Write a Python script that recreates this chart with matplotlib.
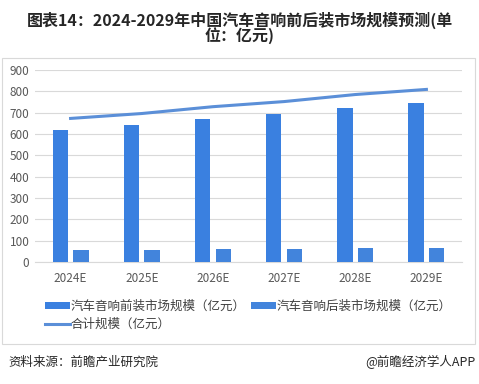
import matplotlib

matplotlib.use("Agg")
import matplotlib.pyplot as plt
import numpy as np
from matplotlib.patches import Rectangle

plt.rcParams["font.family"] = ["Noto Sans CJK SC", "DejaVu Sans"]

# values (亿元)
years = ["2024E", "2025E", "2026E", "2027E", "2028E", "2029E"]
oem = [618, 641, 669, 693, 721, 745]       # 前装
aftermarket = [55, 55, 59, 59, 64, 64]     # 后装
total = [a + b for a, b in zip(oem, aftermarket)]

title = "图表14：2024-2029年中国汽车音响前后装市场规模预测(单\n位：亿元)"
labels = ["汽车音响前装市场规模（亿元）", "汽车音响后装市场规模（亿元）", "合计规模（亿元）"]

fig = plt.figure(figsize=(4.79, 3.84), dpi=100)
ax = fig.add_axes([35 / 479, 1 - 262 / 384, (462 - 35) / 479, (262 - 70) / 384])

x = np.arange(len(years))
w = 0.215
b1 = ax.bar(x - 0.145, oem, w, color="#3a80e0", zorder=3)
b2 = ax.bar(x + 0.145, aftermarket, w, color="#4284dc", zorder=3)
ln, = ax.plot(x, total, color="#5b8fd8", lw=2.2, zorder=4)

ax.set_xlim(-0.5, len(years) - 0.5)
ax.set_ylim(0, 900)
ax.set_yticks(range(0, 901, 100))
ax.set_xticks(x)
ax.set_xticklabels(years)
ax.tick_params(length=0, labelsize=8.5, colors="#595959", pad=4)
ax.tick_params(axis="x", pad=7)
ax.grid(axis="y", color="#d9d9d9", lw=0.8, zorder=0)
for s in ax.spines.values():
    s.set_visible(False)
ax.spines["bottom"].set_visible(True)
ax.spines["bottom"].set_color("#d9d9d9")

fig.text(0.5, 1 - 28 / 384, title, ha="center", va="center", fontsize=11.5,
         fontweight="bold", color="#262626", linespacing=0.9)

# ncol=2 fills column-wise, so order handles to read row by row
fig.legend([b1, ln, b2], [labels[0], labels[2], labels[1]], loc="upper left",
           bbox_to_anchor=(40 / 479, 1 - 295 / 384),
           ncol=2, frameon=False, fontsize=9, handlelength=2.0, handleheight=0.4,
           handletextpad=0.05, columnspacing=0.4, labelspacing=0.4, labelcolor="#404040",
           borderaxespad=0)

# outer frame of the chart
fig.patches.append(Rectangle((2 / 479, 1 - 344 / 384), 473 / 479, (344 - 58) / 384,
                             transform=fig.transFigure, fill=False, ec="#d9d9d9", lw=0.8))

fig.text(8 / 479, 1 - 362 / 384, "资料来源：前瞻产业研究院", ha="left", va="center",
         fontsize=9, color="#262626")
fig.text(476 / 479, 1 - 362 / 384, "@前瞻经济学人APP", ha="right", va="center",
         fontsize=9, color="#262626")

fig.savefig("out.png", dpi=100)
